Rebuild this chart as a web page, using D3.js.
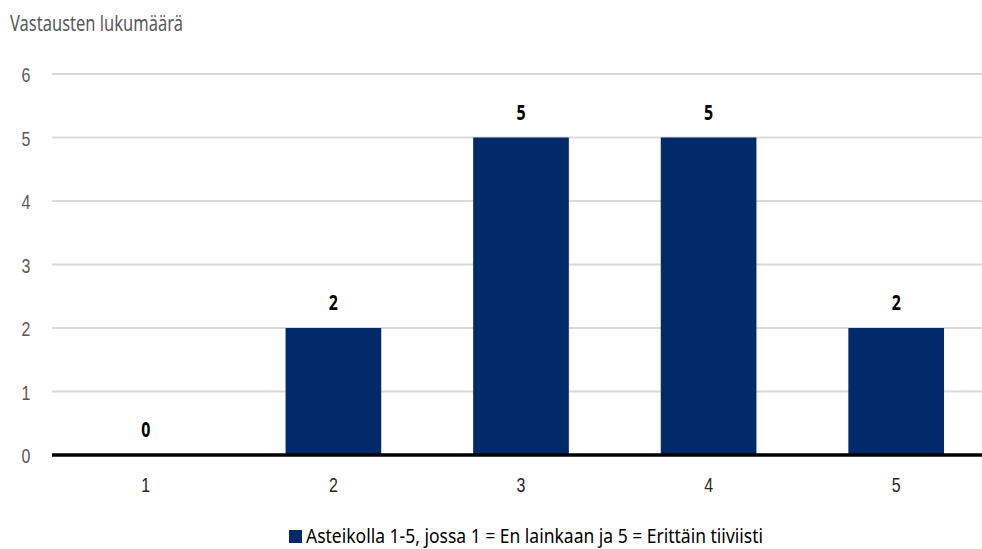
<!DOCTYPE html>
<html>
<head>
<meta charset="utf-8">
<script src="https://cdn.jsdelivr.net/npm/d3@7"></script>
<style>
  body { margin: 0; background: #fff; }
  svg { display: block; font-family: "Noto Sans", "Open Sans", sans-serif; }
</style>
</head>
<body>
<svg id="chart" width="982" height="549"></svg>
<script>
// Answer categories on the 1–5 scale and the number of responses for each
const categories = ["1", "2", "3", "4", "5"];
const counts = [0, 2, 5, 5, 2];
const yTicks = [0, 1, 2, 3, 4, 5, 6];
const yTitle = "Vastausten lukumäärä";
const seriesName = "Asteikolla 1-5, jossa 1 = En lainkaan ja 5 = Erittäin tiiviisti";

const svg = d3.select("#chart");
const W = 982, H = 549;
const margin = { left: 52, right: -8, top: 74, bottom: 94 };

// Narrow the glyphs horizontally to get a condensed face
const condense = (sel, factor) => sel.each(function () {
  const w = this.getComputedTextLength();
  d3.select(this).attr("textLength", w * factor).attr("lengthAdjust", "spacingAndGlyphs");
});
const fitWidth = (sel, width) => sel.attr("textLength", width).attr("lengthAdjust", "spacingAndGlyphs");

const x = d3.scaleBand()
  .domain(categories)
  .range([margin.left, W - margin.right])
  .paddingInner(0.49)
  .paddingOuter(0.245);

const y = d3.scaleLinear()
  .domain([0, 6])
  .range([H - margin.bottom, margin.top]);

const barColor = "#012a6b";
const textGray = "#595959";
const K = 0.76;

// Horizontal gridlines
svg.append("g")
  .selectAll("line")
  .data(yTicks.filter(d => d > 0))
  .join("line")
  .attr("x1", margin.left)
  .attr("x2", W)
  .attr("y1", d => y(d))
  .attr("y2", d => y(d))
  .attr("stroke", "#d9d9d9")
  .attr("stroke-width", 2);

// Y axis labels
const yAxis = svg.append("g")
  .attr("transform", `translate(${margin.left},0)`)
  .call(d3.axisLeft(y).tickValues(yTicks).tickSize(0).tickPadding(0).tickFormat(d3.format("d")));
yAxis.select(".domain").remove();
yAxis.selectAll("text")
  .attr("x", -26)
  .attr("dy", "0.36em")
  .attr("text-anchor", "middle")
  .attr("fill", textGray)
  .style("font-size", "21px")
  .call(condense, K);

// Bars
const rows = categories.map((c, i) => ({ c, v: counts[i] }));
svg.append("g")
  .selectAll("rect")
  .data(rows)
  .join("rect")
  .attr("x", d => x(d.c))
  .attr("width", x.bandwidth())
  .attr("y", d => y(d.v))
  .attr("height", d => y(0) - y(d.v))
  .attr("fill", barColor);

// Value labels above bars
svg.append("g")
  .selectAll("text")
  .data(rows)
  .join("text")
  .attr("x", d => x(d.c) + x.bandwidth() / 2)
  .attr("y", d => y(d.v) - 18)
  .attr("text-anchor", "middle")
  .attr("font-weight", "bold")
  .attr("fill", "#000")
  .style("font-size", "21px")
  .text(d => d.v)
  .call(condense, K);

// X axis labels
const xAxis = svg.append("g")
  .attr("transform", `translate(0,${y(0)})`)
  .call(d3.axisBottom(x).tickSize(0).tickPadding(0));
xAxis.select(".domain").remove();
xAxis.selectAll("text")
  .attr("y", 37)
  .attr("dy", 0)
  .attr("fill", "#262626")
  .style("font-size", "21px")
  .call(condense, K);

// Baseline
svg.append("line")
  .attr("x1", margin.left)
  .attr("x2", W)
  .attr("y1", y(0))
  .attr("y2", y(0))
  .attr("stroke", "#000")
  .attr("stroke-width", 3.5);

// Y axis title
svg.append("text")
  .attr("x", 10)
  .attr("y", 31)
  .attr("fill", textGray)
  .style("font-size", "21px")
  .text(yTitle)
  .call(fitWidth, 173);

// Legend
const legend = svg.append("g").attr("transform", "translate(289,530)");
legend.append("rect")
  .attr("x", 0).attr("y", 0)
  .attr("width", 13).attr("height", 13)
  .attr("fill", barColor);
legend.append("text")
  .attr("x", 17)
  .attr("y", 13)
  .attr("fill", "#000")
  .style("font-size", "20.5px")
  .text(seriesName)
  .call(fitWidth, 457);
</script>
</body>
</html>
